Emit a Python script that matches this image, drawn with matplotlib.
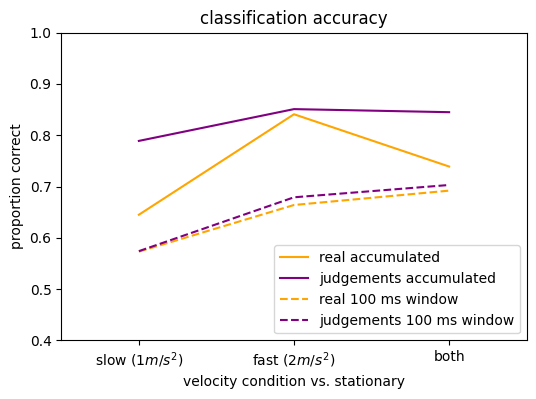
import matplotlib
matplotlib.use("Agg")
import matplotlib.pyplot as plt

conditions = ["slow ($1m/s^2$)", "fast ($2m/s^2$)", "both"]
real_accumulated = [0.645, 0.841, 0.739]
judgements_accumulated = [0.789, 0.851, 0.845]
real_window = [0.573, 0.664, 0.692]
judgements_window = [0.574, 0.679, 0.703]


def main():
    fig, ax = plt.subplots(figsize=(5.36, 3.99), dpi=100)
    x = range(len(conditions))
    ax.plot(x, real_accumulated, color="orange", label="real accumulated")
    ax.plot(x, judgements_accumulated, color="purple", label="judgements accumulated")
    ax.plot(x, real_window, color="orange", linestyle="--", label="real 100 ms window")
    ax.plot(x, judgements_window, color="purple", linestyle="--", label="judgements 100 ms window")
    ax.set_xticks(list(x))
    ax.set_xticklabels(conditions)
    ax.set_xlim(-0.5, 2.5)
    ax.set_ylim(0.4, 1.0)
    ax.set_xlabel("velocity condition vs. stationary")
    ax.set_ylabel("proportion correct")
    ax.set_title("classification accuracy")
    ax.legend(loc="lower right")
    fig.subplots_adjust(left=0.1144, right=0.9826, top=0.918, bottom=0.147)
    fig.savefig("out.png", dpi=100)


if __name__ == "__main__":
    main()
